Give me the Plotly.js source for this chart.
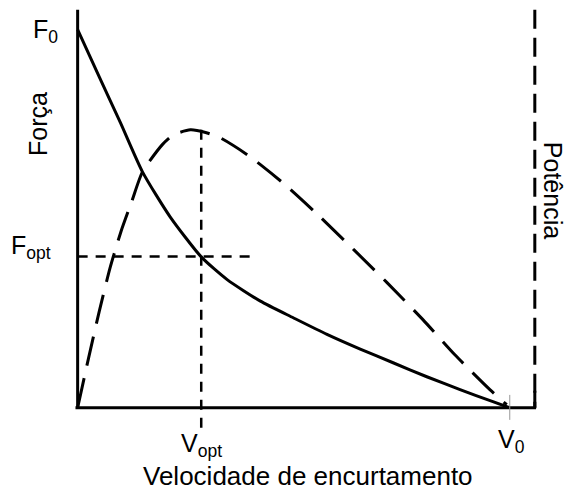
<!DOCTYPE html>
<html>
<head>
<meta charset="utf-8">
<script src="https://cdn.plot.ly/plotly-3.0.1.min.js"></script>
<style>html,body{margin:0;padding:0;background:#fff;}#chart{width:566px;height:492px;}</style>
</head>
<body>
<div id="chart"></div>
<script>
// Force-velocity curve (normalized: F0 = 1, V0 = 1)
const forceV = [0, 0.05, 0.099, 0.150, 0.214, 0.286, 0.346, 0.423, 0.499, 0.577, 0.654, 0.730, 0.808, 0.885, 0.961, 1.0];
const forceF = [1.0, 0.875, 0.754, 0.624, 0.505, 0.399, 0.339, 0.282, 0.238, 0.194, 0.155, 0.119, 0.082, 0.048, 0.016, 0.0];
// Power curve (same vertical scale)
const powerV = [0, 0.025, 0.05, 0.075, 0.10, 0.125, 0.150, 0.196, 0.222, 0.261, 0.296, 0.330, 0.393, 0.423, 0.480, 0.561, 0.716, 0.799, 0.873, 0.954, 0.993];
const powerP = [0, 0.13, 0.255, 0.37, 0.465, 0.545, 0.624, 0.696, 0.722, 0.735, 0.728, 0.714, 0.669, 0.643, 0.590, 0.505, 0.331, 0.233, 0.140, 0.048, 0.008];
// Key points
const Vopt = 0.286, Fopt = 0.40, V0 = 1.0, F0 = 1.0, Pmax = 0.735;
const axisTop = 1.053, axisRight = 1.058;
const labels = {F0: 'F<sub>0</sub>', Fopt: 'F<sub>opt</sub>', Vopt: 'V<sub>opt</sub>', V0: 'V<sub>0</sub>',
  yTitle: 'Força', y2Title: 'Potência', xTitle: 'Velocidade de encurtamento'};

const FONT = 'Liberation Sans, Arial, Helvetica, sans-serif';

const traces = [
  {x: forceV, y: forceF, type: 'scatter', mode: 'lines',
   line: {color: '#000', width: 3, shape: 'spline', smoothing: 0.6}, hoverinfo: 'skip'},
  {x: powerV, y: powerP, type: 'scatter', mode: 'lines',
   line: {color: '#000', width: 3, dash: '30px,13px', shape: 'spline', smoothing: 0.6}, hoverinfo: 'skip'}
];

const shapes = [
  // axes
  {type: 'line', x0: 0, x1: 0, y0: 0, y1: axisTop, line: {color: '#000', width: 3}},
  {type: 'line', x0: -0.005, x1: axisRight + 0.003, y0: 0, y1: 0, line: {color: '#000', width: 3}},
  // right dashed (power) axis
  {type: 'line', x0: axisRight, x1: axisRight, y0: axisTop, y1: 0, line: {color: '#000', width: 3, dash: '19px,9px'}},
  {type: 'line', x0: axisRight, x1: axisRight, y0: 0.045, y1: 0, line: {color: '#000', width: 3}},
  // guides
  {type: 'line', x0: 0, x1: 0.41, y0: Fopt, y1: Fopt, line: {color: '#000', width: 2.5, dash: '10px,8px'}},
  {type: 'line', x0: Vopt, x1: Vopt, y0: Pmax, y1: -0.063, line: {color: '#000', width: 2.5, dash: '10px,8px'}},
  {type: 'line', x0: V0, x1: V0, y0: 0.034, y1: -0.032, line: {color: '#999', width: 1}}
];

const ann = (o) => Object.assign({showarrow: false, font: {family: FONT, size: 25, color: '#000'}}, o);
const annotations = [
  ann({xref: 'paper', yref: 'paper', x: -0.019, y: 0.9466, text: labels.F0, xanchor: 'right', yanchor: 'middle', yshift: -1}),
  ann({xref: 'paper', yref: 'paper', x: -0.034, y: 0.4478, text: labels.Fopt, xanchor: 'right', yanchor: 'middle', yshift: -2}),
  ann({xref: 'paper', yref: 'paper', x: -0.0658, y: 0.7285, text: labels.yTitle, textangle: -90, xanchor: 'center', yanchor: 'middle'}),
  ann({x: Vopt, y: -0.05, text: labels.Vopt, xanchor: 'center', yanchor: 'top'}),
  ann({x: V0 + 0.003, y: -0.04, text: labels.V0, xanchor: 'center', yanchor: 'top'}),
  ann({xref: 'paper', yref: 'paper', x: 0.5074, y: -0.0487, text: labels.xTitle, xanchor: 'center', yanchor: 'top', font: {family: FONT, size: 26, color: '#000'}}),
  ann({xref: 'paper', yref: 'paper', x: 1.028, y: 0.5754, text: labels.y2Title, textangle: 90, xanchor: 'center', yanchor: 'middle'})
];

const layout = {
  width: 566, height: 492,
  margin: {l: 69, r: 26, t: 7, b: 54},
  paper_bgcolor: '#fff', plot_bgcolor: '#fff',
  showlegend: false,
  xaxis: {range: [-0.02, 1.07], visible: false, fixedrange: true},
  yaxis: {range: [-0.08, 1.06], visible: false, fixedrange: true},
  shapes: shapes,
  annotations: annotations
};

Plotly.newPlot('chart', traces, layout, {staticPlot: true, displayModeBar: false});
</script>
</body>
</html>
